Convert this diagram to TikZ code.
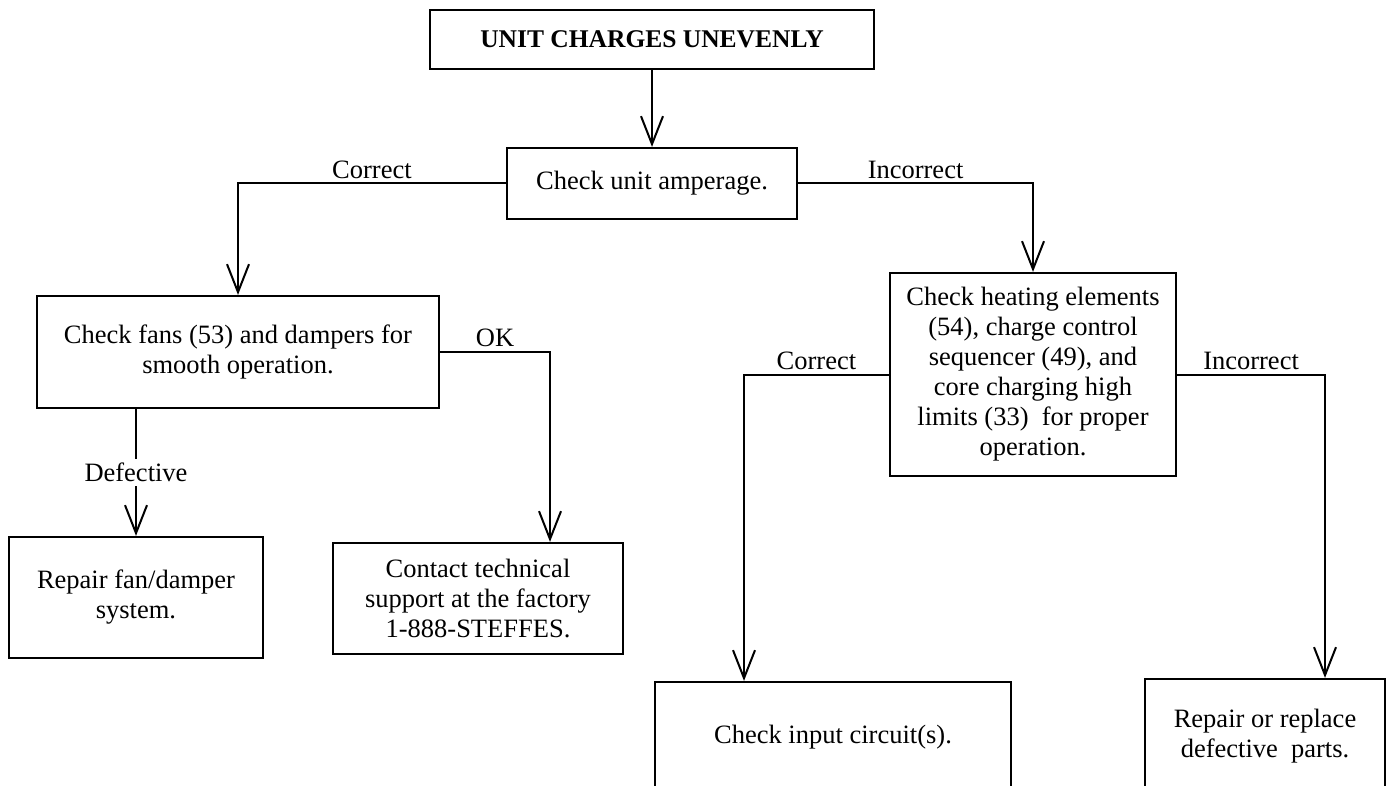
\documentclass[tikz,border=0pt]{standalone}
\usepackage{fontspec}
\setmainfont{Liberation Serif}
\usetikzlibrary{arrows.meta}
\tikzset{
  box/.style={draw, line width=2.2pt, inner sep=0pt, align=center,
    font=\fontsize{26.5}{30}\selectfont},
  arr/.style={line width=2pt, -{Straight Barb[length=28pt,width=22pt]}},
  lbl/.style={above, inner sep=4pt, font=\fontsize{26.5}{30}\selectfont},
}
\begin{document}
\begin{tikzpicture}[x=1pt,y=-1pt]
\useasboundingbox (0,0) rectangle (1391,786);
\clip (0,0) rectangle (1391,786);
\fill[white] (0,0) rectangle (1391,786);

\node[box, minimum width=444pt, minimum height=59pt,
  font=\fontsize{25.5}{30}\selectfont\bfseries] (top) at (652,39.5) {UNIT CHARGES UNEVENLY};
\node[box, minimum width=290pt, minimum height=71pt] (amp) at (652,183.5) {Check unit amperage.};
\node[box, minimum width=402pt, minimum height=112pt] (fans) at (238,352)
  {Check fans (53) and dampers for\\smooth operation.};
\node[box, minimum width=254pt, minimum height=121pt] (rfan) at (136,597.5)
  {Repair fan/damper\\system.};
\node[box, minimum width=290pt, minimum height=111pt] (contact) at (478,598.5)
  {Contact technical\\support at the factory\\1-888-STEFFES.};
\node[box, minimum width=286pt, minimum height=203pt] (heat) at (1033,374.5)
  {Check heating elements\\(54), charge control\\sequencer (49), and\\core charging high\\limits (33)~ for proper\\operation.};
\node[box, minimum width=356pt, minimum height=110pt] (input) at (833,737)
  {Check input circuit(s).};
\node[box, minimum width=240pt, minimum height=114pt] (repair) at (1265,736)
  {Repair or replace\\defective~ parts.};

\coordinate (okc) at (550,352);
\coordinate (cc) at (744,374.5);
\coordinate (ic) at (1325,374.5);

\draw[arr] (top.south) -- (amp.north);
\draw[arr] (amp.west) -- node[lbl] {Correct} (fans.north |- amp.west) -- (fans.north);
\draw[arr] (amp.east) -- node[lbl] {Incorrect} (heat.north |- amp.east) -- (heat.north);
\draw[arr] (fans.east) -- node[lbl] {OK} (okc) -- (okc |- contact.north);
\draw[arr] (fans.south -| rfan.north) -- node[fill=white, inner xsep=2pt, inner ysep=4pt,
  font=\fontsize{26.5}{30}\selectfont] {Defective} (rfan.north);
\draw[arr] (heat.west) -- node[lbl] {Correct} (cc) -- (cc |- input.north);
\draw[arr] (heat.east) -- node[lbl] {Incorrect} (ic) -- (ic |- repair.north);
\end{tikzpicture}
\end{document}
